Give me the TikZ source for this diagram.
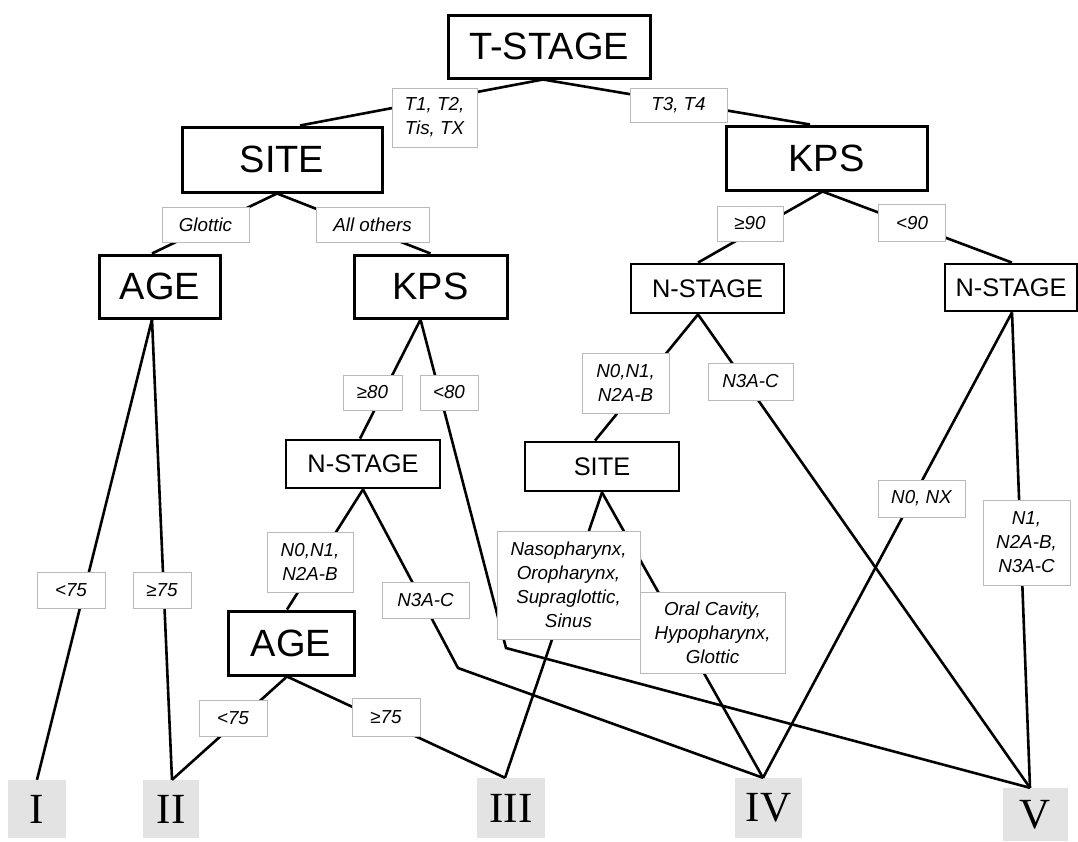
\documentclass[tikz,border=0pt]{standalone}
\usepackage{fontspec}
\setmainfont{Liberation Sans}
\newfontfamily\romanfont{Liberation Serif}
\begin{document}
\begin{tikzpicture}[x=1pt,y=-1pt,
  dims/.style 2 args={minimum width=#1pt, minimum height=#2pt},
  decision/.style={draw, line width=3pt, fill=white, inner sep=0pt,
    font=\fontsize{38}{44}\selectfont},
  smalldecision/.style={decision, line width=2.8pt, font=\fontsize{25.4}{30}\selectfont},
  cond/.style={draw=gray!55, line width=0.9pt, fill=white, inner sep=0pt,
    align=center, font=\fontsize{18.8}{24}\selectfont\itshape},
  stagebox/.style={fill=gray!22, inner sep=0pt,
    font=\romanfont\fontsize{43}{48}\selectfont},
  link/.style={line width=2.6pt, line join=miter}
]
\useasboundingbox (0,0) rectangle (1078,841);

% ---------- decision nodes ----------
\node[decision, dims={202}{63}] (tstage) at (549,46.5) {T-STAGE};
\node[decision, dims={200}{65}] (site1) at (282,159.5) {SITE};
\node[decision, dims={201}{64}] (kps1) at (826.5,158) {KPS};
\node[decision, dims={121}{63}] (age1) at (160,286.5) {AGE};
\node[decision, dims={153}{63}] (kps2) at (430.5,286.5) {KPS};
\node[smalldecision, dims={154}{48}] (nst1) at (363,464) {N-STAGE};
\node[decision, dims={126}{64}] (age2) at (291,643) {AGE};
\node[smalldecision, dims={153}{49}] (nst2) at (707.5,288.5) {N-STAGE};
\node[smalldecision, dims={132}{47}] (nst3) at (1011,287.5) {N-STAGE};
\node[smalldecision, dims={154}{49}] (site2) at (602,466.5) {SITE};

% ---------- stage groups ----------
\node[stagebox, dims={58}{58}] (s1) at (37,809) {I};
\node[stagebox, dims={56}{58}] (s2) at (171,809) {II};
\node[stagebox, dims={68}{60}] (s3) at (511,808) {III};
\node[stagebox, dims={67}{60}] (s4) at (768.5,808) {IV};
\node[stagebox, dims={65}{53}] (s5) at (1035.5,814.5) {V};

% ---------- bends ----------
\coordinate (bendA) at (506,648);
\coordinate (bendB) at (458,668);

% ---------- branches ----------
\draw[link] ([xshift=-6pt]tstage.south) -- ([xshift=18pt]site1.north);
\draw[link] ([xshift=-6pt]tstage.south) -- ([xshift=-16.5pt]kps1.north);
\draw[link] ([xshift=-5pt]site1.south) -- ([xshift=-8pt]age1.north);
\draw[link] ([xshift=-5pt]site1.south) -- (kps2.north);
\draw[link] ([xshift=-4pt]kps1.south) -- ([xshift=-9.5pt]nst2.north);
\draw[link] ([xshift=-4pt]kps1.south) -- ([xshift=1pt]nst3.north);
\draw[link] ([xshift=-8pt]age1.south) -- (s1.north);
\draw[link] ([xshift=-8pt]age1.south) -- ([xshift=1pt]s2.north);
\draw[link] ([xshift=-10pt]kps2.south) -- ([xshift=-3pt]nst1.north);
\draw[link] ([xshift=-10pt]kps2.south) -- (bendA) -- ([xshift=-5.5pt]s5.north);
\draw[link] (nst1.south) -- ([xshift=-4pt]age2.north);
\draw[link] (nst1.south) -- (bendB) -- ([xshift=-5.5pt]s4.north);
\draw[link] ([xshift=-4pt]age2.south) -- ([xshift=1pt]s2.north);
\draw[link] ([xshift=-4pt]age2.south) -- ([xshift=-6pt]s3.north);
\draw[link] ([xshift=-9.5pt]nst2.south) -- ([xshift=-7pt]site2.north);
\draw[link] ([xshift=-9.5pt]nst2.south) -- ([xshift=-5.5pt]s5.north);
\draw[link] (site2.south) -- ([xshift=-6pt]s3.north);
\draw[link] (site2.south) -- ([xshift=-5.5pt]s4.north);
\draw[link] ([xshift=1pt]nst3.south) -- ([xshift=-5.5pt]s4.north);
\draw[link] ([xshift=1pt]nst3.south) -- ([xshift=-5.5pt]s5.north);

% ---------- branch conditions ----------
\node[cond, dims={85}{59}] (lt12) at (434.5,117.5) {T1, T2,\\Tis, TX};
\node[cond, dims={97}{34}] (lt34) at (678.5,105) {T3, T4};
\node[cond, dims={87}{35}] (lglot) at (205.5,224.5) {Glottic};
\node[cond, dims={113}{35}] (lall) at (372.5,224.5) {All others};
\node[cond, dims={66}{35}] (lge90) at (750,223.5) {≥90};
\node[cond, dims={67}{37}] (llt90) at (912,223) {<90};
\node[cond, dims={68}{36}] (llt75a) at (71,590) {<75};
\node[cond, dims={58}{36}] (lge75a) at (162,590) {≥75};
\node[cond, dims={59}{35}] (lge80) at (372.5,392.5) {≥80};
\node[cond, dims={58}{35}] (llt80) at (449,392.5) {<80};
\node[cond, dims={86}{60}] (ln012a) at (310,562) {N0,N1,\\N2A-B};
\node[cond, dims={87}{36}] (ln3a) at (425.5,600) {N3A-C};
\node[cond, dims={68}{36}] (llt75b) at (233,718) {<75};
\node[cond, dims={68}{38}] (lge75b) at (386,717) {≥75};
\node[cond, dims={87}{60}] (ln012b) at (625.5,383) {N0,N1,\\N2A-B};
\node[cond, dims={85}{37}] (ln3b) at (750.5,381.5) {N3A-C};
\node[cond, dims={143}{108}] (lnaso) at (568.5,585) {Nasopharynx,\\Oropharynx,\\Supraglottic,\\Sinus};
\node[cond, dims={145}{81}] (loral) at (712.5,632.5) {Oral Cavity,\\Hypopharynx,\\Glottic};
\node[cond, dims={87}{37}] (ln0nx) at (921.5,498.5) {N0, NX};
\node[cond, dims={87}{85}] (ln1) at (1026.5,542.5) {N1,\\N2A-B,\\N3A-C};
\end{tikzpicture}
\end{document}
